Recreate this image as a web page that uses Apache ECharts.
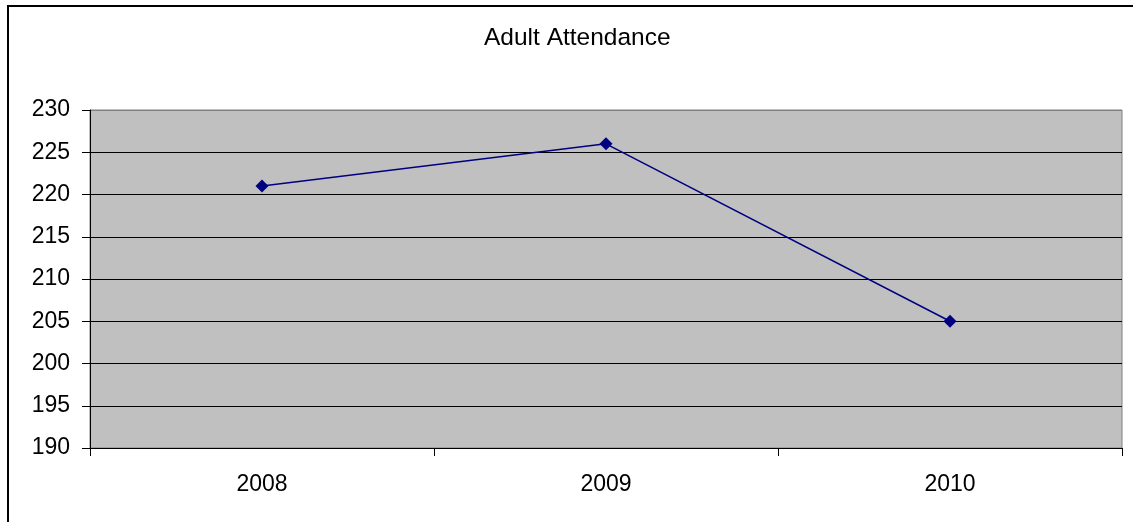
<!DOCTYPE html>
<html>
<head>
<meta charset="utf-8">
<script src="https://cdn.jsdelivr.net/npm/echarts@6/dist/echarts.min.js"></script>
<style>
html,body{margin:0;padding:0;background:#fff;}
#chart{width:1133px;height:522px;}
</style>
</head>
<body>
<div id="chart"></div>
<script>
const titleText = 'Adult Attendance';
const categories = ['2008', '2009', '2010'];
const attendance = [221, 226, 205];
const yMin = 190, yMax = 230, yStep = 5;

const chart = echarts.init(document.getElementById('chart'), null, {renderer: 'canvas'});
const font = 'Liberation Sans, Arial, sans-serif';
chart.setOption({
  animation: false,
  backgroundColor: '#ffffff',
  title: {
    text: titleText,
    left: 479,
    top: 21,
    textStyle: {fontFamily: font, fontSize: 24.5, fontWeight: 'normal', color: '#000'}
  },
  graphic: [{
    type: 'rect',
    shape: {x: 8, y: 6, width: 1300, height: 700},
    style: {fill: 'none', stroke: '#000', lineWidth: 2},
    silent: true, z: 100
  }],
  grid: {
    left: 90, top: 110, right: 11, bottom: 74,
    show: true, backgroundColor: '#c0c0c0', borderColor: '#808080', borderWidth: 1
  },
  xAxis: {
    type: 'category',
    data: categories,
    boundaryGap: true,
    axisLine: {show: true, lineStyle: {color: '#000', width: 1}},
    axisTick: {show: true, length: 8, inside: false, lineStyle: {color: '#000'}},
    axisLabel: {fontFamily: font, fontSize: 23, color: '#000', margin: 25},
    splitLine: {show: false}
  },
  yAxis: {
    type: 'value',
    min: yMin, max: yMax, interval: yStep,
    axisLine: {show: true, lineStyle: {color: '#000', width: 1}},
    axisTick: {show: true, length: 8, lineStyle: {color: '#000'}},
    axisLabel: {fontFamily: font, fontSize: 23, color: '#000', margin: 20},
    splitLine: {show: true, lineStyle: {color: ['#000','#000','#000','#000','#000','#000','#000','#000','#808080'], width: 1}}
  },
  series: [{
    type: 'line',
    data: attendance,
    symbol: 'diamond',
    symbolSize: 13,
    itemStyle: {color: '#000080'},
    lineStyle: {color: '#000080', width: 1.5}
  }]
});
</script>
</body>
</html>
